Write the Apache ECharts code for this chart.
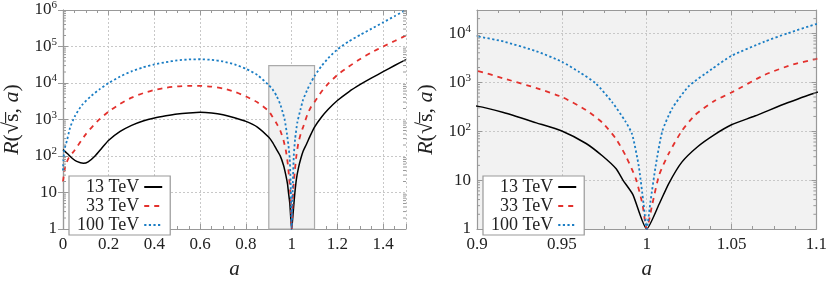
<!DOCTYPE html>
<html><head><meta charset="utf-8">
<script src="https://cdn.jsdelivr.net/npm/echarts@6/dist/echarts.min.js"></script>
<style>html,body{margin:0;padding:0;background:#fff}#c{width:830px;height:285px}</style>
</head><body><div id="c"></div>
<script>
// ---- data ----
const seriesNames = ['13 TeV', '33 TeV', '100 TeV'];
const a13 = [0, 0.02, 0.04, 0.06, 0.089, 0.11, 0.14, 0.17, 0.2, 0.25, 0.3, 0.35, 0.4, 0.45, 0.5, 0.55, 0.6, 0.65, 0.7, 0.75, 0.8, 0.85, 0.9, 0.9156, 0.935, 0.95, 0.9643, 0.974, 0.982, 0.986, 0.9918, 1.0, 1.0073, 1.013, 1.0206, 1.03, 1.04, 1.05, 1.0637, 1.083, 1.1, 1.13, 1.16, 1.2, 1.25, 1.3, 1.35, 1.4, 1.45, 1.5];
const r13 = [150, 115, 87, 71, 63, 69, 100, 166, 270, 470, 690, 910, 1100, 1260, 1410, 1510, 1580, 1510, 1350, 1120, 890, 620, 325, 240, 148, 101, 56, 31, 17, 10, 5.1, 1, 3.2, 8.5, 23, 48, 85, 135, 204, 380, 620, 1150, 1900, 3310, 5750, 9120, 13800, 20400, 30200, 43650];
const a33 = [0, 0.01, 0.025, 0.05, 0.1, 0.15, 0.2, 0.25, 0.3, 0.35, 0.4, 0.45, 0.5, 0.55, 0.6, 0.65, 0.7, 0.75, 0.8, 0.85, 0.9, 0.9156, 0.935, 0.95, 0.9643, 0.974, 0.982, 0.9877, 0.9936, 0.9975, 1.0, 1.0033, 1.0073, 1.013, 1.0206, 1.0285, 1.04, 1.05, 1.0694, 1.085, 1.1, 1.13, 1.16, 1.2, 1.25, 1.3, 1.35, 1.4, 1.45, 1.5];
const r33 = [20, 52, 89, 141, 398, 891, 1660, 2690, 3980, 5250, 6460, 7410, 8040, 8320, 8320, 7940, 7080, 5750, 4270, 2950, 1700, 1200, 760, 500, 270, 148, 69, 31, 10.7, 3.2, 1, 3.2, 12.6, 35, 100, 214, 417, 617, 1410, 2240, 3020, 5750, 9550, 16600, 28200, 45700, 69200, 100000, 141000, 200000];
const a100 = [0, 0.005, 0.017, 0.031, 0.052, 0.082, 0.125, 0.162, 0.2, 0.25, 0.3, 0.35, 0.4, 0.45, 0.5, 0.55, 0.6, 0.65, 0.7, 0.75, 0.8, 0.85, 0.9, 0.9156, 0.935, 0.95, 0.9602, 0.9699, 0.9797, 0.9875, 0.9914, 0.9953, 0.9982, 1.0, 1.0023, 1.0053, 1.0092, 1.015, 1.0248, 1.0384, 1.05, 1.0694, 1.083, 1.1, 1.13, 1.16, 1.2, 1.25, 1.3, 1.35, 1.4, 1.45, 1.5];
const r100 = [40, 140, 260, 600, 1230, 2450, 4500, 6900, 10000, 15100, 20900, 26900, 32400, 37200, 41700, 44200, 44700, 43200, 38900, 32400, 24500, 16600, 8700, 6800, 4300, 2630, 1620, 955, 390, 158, 87, 19.5, 3.2, 1, 3.8, 19.5, 100, 290, 830, 1860, 3470, 6760, 10000, 15500, 28800, 47900, 83200, 138000, 209000, 309000, 457000, 676000, 1000000];

// axis ranges
const leftX = [0, 1.5], leftXStep = 0.2, leftY = [1, 1e6];
const rightX = [0.9, 1.1], rightXStep = 0.05, rightY = [1, 30000];

const colors = ['#000000', '#e3312d', '#1a7dc4'];
const dashes = ['solid', [5, 5], [2.2, 2.4]];
const FONT = 'Liberation Serif';
const AX = '#999';

function zip(a, r) { return a.map((v, i) => [v, r[i]]); }
const dataSets = [zip(a13, r13), zip(a33, r33), zip(a100, r100)];

function yFmt(v) {
  const e = Math.round(Math.log10(v));
  if (e === 0) return '1';
  if (e === 1) return '10';
  return '10{sup|' + e + '}';
}
function xFmt(v) { return String(parseFloat(v.toFixed(3))); }

const minorVals = [];
for (let e = 0; e < 6; e++) for (let m = 2; m <= 9; m++) minorVals.push(m * Math.pow(10, e));

const grids = [
  { left: 63, top: 10, width: 343, height: 230 },
  { left: 477, top: 10, width: 342, height: 230, show: true, backgroundColor: '#f2f2f2', borderWidth: 0 }
];

function xAxes(gi, rng, step, minorSplit) {
  const base = {
    gridIndex: gi, type: 'value', min: rng[0], max: rng[1], interval: step,
    axisLine: { show: true, onZero: false, lineStyle: { color: AX, width: 1.2 } },
    axisTick: { show: true, inside: true, length: 5, lineStyle: { color: AX } },
    minorTick: { show: true, splitNumber: minorSplit, length: 3, lineStyle: { color: AX } },
  };
  return [
    Object.assign({}, base, {
      position: 'bottom',
      axisLabel: { formatter: xFmt, fontFamily: FONT, fontSize: 17, color: '#222', margin: 7, showMaxLabel: Math.abs(rng[1] / step - Math.round(rng[1] / step)) < 1e-6 },
      splitLine: { show: true, lineStyle: { color: '#c8c8c8', type: [2, 2], width: 1 } },
      name: 'a', nameLocation: 'middle', nameGap: 30,
      nameTextStyle: { fontFamily: FONT, fontSize: 21, fontStyle: 'italic', color: '#222' }
    }),
    Object.assign({}, base, { position: 'top', axisLabel: { show: false }, splitLine: { show: false } })
  ];
}
function yAxes(gi, rng) {
  const base = {
    gridIndex: gi, type: 'log', logBase: 10, min: rng[0], max: rng[1],
    axisLine: { show: true, lineStyle: { color: AX, width: 1.2 } },
    axisTick: { show: true, inside: true, length: 5, lineStyle: { color: AX } },
  };
  return [
    Object.assign({}, base, {
      position: 'left',
      axisLabel: {
        formatter: yFmt, fontFamily: FONT, fontSize: 17, color: '#222', margin: 6, showMaxLabel: rng[1] === 1e6,
        rich: { sup: { fontFamily: FONT, fontSize: 11, color: '#222', verticalAlign: 'bottom', padding: [0, 0, 9, 0] } }
      },
      splitLine: { show: true, lineStyle: { color: '#c8c8c8', type: [2, 2], width: 1 } },
      name: '{it|R}(√s̅, {it|a})', nameLocation: 'middle', nameGap: 40, nameRotate: 90,
      nameTextStyle: {
        fontFamily: FONT, fontSize: 22, color: '#222',
        rich: { it: { fontFamily: FONT, fontSize: 22, fontStyle: 'italic', color: '#222' } }
      }
    }),
    Object.assign({}, base, { position: 'right', axisLabel: { show: false }, splitLine: { show: false } })
  ];
}

const series = [];
[0, 1].forEach(gi => {
  dataSets.forEach((d, si) => {
    const s = {
      name: seriesNames[si], type: 'line', xAxisIndex: gi * 2, yAxisIndex: gi * 2,
      data: d, showSymbol: false, symbol: 'none', smooth: 0.2, clip: true,
      lineStyle: { color: colors[si], width: si === 0 ? 1.5 : 1.8, type: dashes[si] },
      itemStyle: { color: colors[si] }, z: 3 + si, silent: true
    };
    if (gi === 0 && si === 0) {
      s.markArea = {
        silent: true,
        itemStyle: { color: '#f1f1f1', borderColor: '#aaaaaa', borderWidth: 1.2 },
        data: [[{ xAxis: rightX[0], yAxis: rightY[0] }, { xAxis: rightX[1], yAxis: rightY[1] }]]
      };
    }
    series.push(s);
  });
  // log minor ticks on left and right edges
  const yr = gi === 0 ? leftY : rightY, xr = gi === 0 ? leftX : rightX;
  series.push({
    name: 'minor' + gi, type: 'custom', xAxisIndex: gi * 2, yAxisIndex: gi * 2, silent: true, z: 10,
    data: minorVals.filter(v => v < yr[1]).map(v => [xr[0], v]),
    renderItem: (params, api) => {
      const v = api.value(1);
      const p = api.coord([xr[0], v]);
      const q = api.coord([xr[1], v]);
      return {
        type: 'group', children: [
          { type: 'line', shape: { x1: p[0], y1: p[1], x2: p[0] + 3, y2: p[1] }, style: { stroke: AX, lineWidth: 1 } },
          { type: 'line', shape: { x1: q[0], y1: q[1], x2: q[0] - 3, y2: q[1] }, style: { stroke: AX, lineWidth: 1 } }
        ]
      };
    }
  });
});

function legendAt(left) {
  return {
    data: seriesNames, orient: 'vertical', left: left, top: 176, align: 'right',
    itemWidth: 18, itemHeight: 10, itemGap: 1, selectedMode: false,
    itemStyle: { opacity: 0 },
    backgroundColor: '#fff', borderColor: '#999', borderWidth: 1.2, borderRadius: 0, padding: [2, 7, 1, 8],
    textStyle: { fontFamily: FONT, fontSize: 18, color: '#222', width: 68, align: 'right', padding: [0, 0, 0, 0] }
  };
}

const chart = echarts.init(document.getElementById('c'), null, { renderer: 'canvas' });
chart.setOption({
  animation: false,
  grid: grids,
  xAxis: [...xAxes(0, leftX, leftXStep, 4), ...xAxes(1, rightX, rightXStep, 4)],
  yAxis: [...yAxes(0, leftY), ...yAxes(1, rightY)],
  legend: [legendAt(69), legendAt(483)],
  series: series
});
</script></body></html>
